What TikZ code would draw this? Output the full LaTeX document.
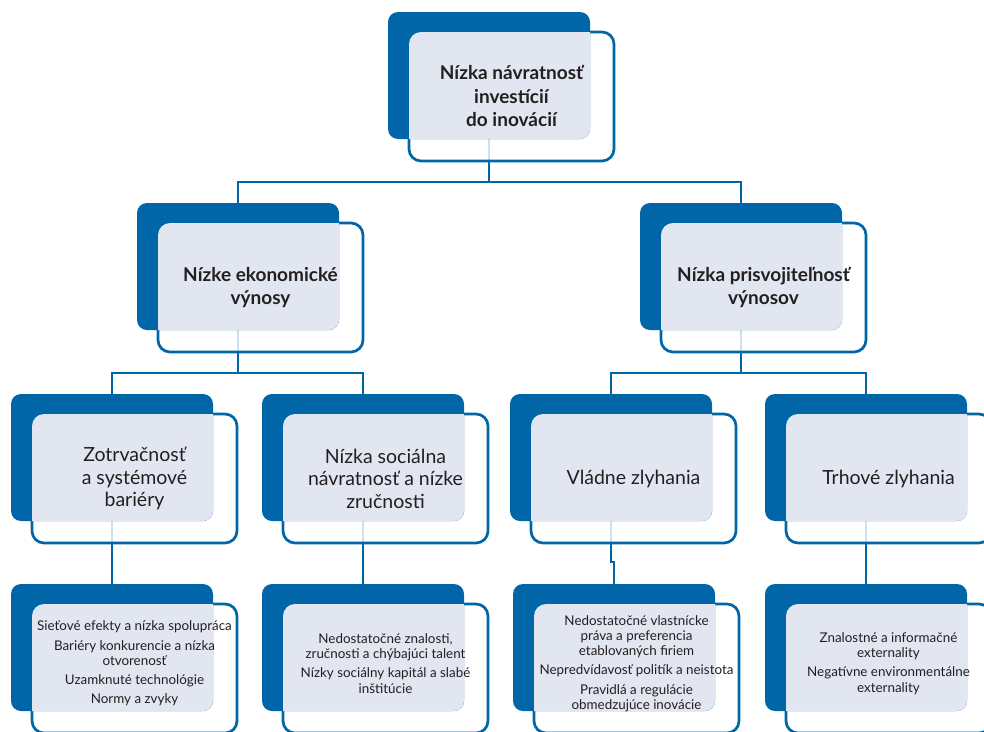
\documentclass[tikz,border=0pt]{standalone}
\usepackage{fontspec}
\setmainfont{Lato}
\definecolor{dblue}{HTML}{0066A8}
\definecolor{lfill}{HTML}{E1E6F1}
\definecolor{txt}{HTML}{231F20}
\pgfdeclarelayer{bg}
\pgfsetlayers{bg,main}
\tikzset{
 darkbox/.style={fill=dblue, draw=none, rounded corners=10pt, minimum width=202pt, minimum height=127pt, inner sep=0pt, outer sep=0pt, anchor=north west},
 outbox/.style={draw=dblue, line width=2.7pt, fill=white, fill opacity=0.8, rounded corners=12pt, minimum width=205pt, minimum height=129pt, inner sep=0pt, outer sep=0pt, anchor=north west},
 conn/.style={draw=dblue, line width=2.8pt},
 h1/.style={font=\fontsize{19}{23.5}\selectfont\bfseries, text=txt, align=center},
 h3/.style={font=\fontsize{19.5}{22.5}\selectfont, text=txt, align=center},
 h4/.style={font=\fontsize{13.4}{15.2}\selectfont, text=txt, align=center, yshift=5pt},
}
% name, x, y, text, style
\newcommand\tribox[5]{%
 \node[outbox] (#1o) at (#2+21,#3+20) {};
 \node[darkbox] (#1) at (#2,#3) {};
 \begin{scope}
  \clip[rounded corners=10pt] (#1.north west) rectangle (#1.south east);
  \fill[lfill, rounded corners=12pt] (#1o.north west) rectangle (#1o.south east);
 \end{scope}
 \node[#5] (#1t) at (#1o.center) {#4};
}
\begin{document}
\begin{tikzpicture}[x=1pt,y=-1pt]
\useasboundingbox (0,0) rectangle (984,731);
\clip (0,0) rectangle (984,731);

\tribox{top}{388}{12}{Nízka návratnosť\\investícií\\do inovácií}{h1}

\tribox{ek}{137}{203}{Nízke ekonomické\\výnosy}{h1}
\tribox{pr}{640}{203}{Nízka prisvojiteľnosť\\výnosov}{h1}

\tribox{zo}{11}{394}{Zotrvačnosť\\a systémové\\bariéry}{h3}
\tribox{so}{262}{394}{Nízka sociálna\\návratnosť a nízke\\zručnosti}{h3}
\tribox{vl}{510}{394}{Vládne zlyhania}{h3}
\tribox{tr}{765}{394}{Trhové zlyhania}{h3}

\tribox{zoa}{11}{584}{Sieťové efekty a nízka spolupráca\\[4pt]Bariéry konkurencie a nízka\\otvorenosť\\[4pt]Uzamknuté technológie\\[4pt]Normy a zvyky}{h4}
\tribox{soa}{262}{584}{Nedostatočné znalosti,\\zručnosti a chýbajúci talent\\[4pt]Nízky sociálny kapitál a slabé\\inštitúcie}{h4}
\tribox{vla}{513}{584}{Nedostatočné vlastnícke\\práva a preferencia\\etablovaných firiem\\[4pt]Nepredvídavosť politík a neistota\\[4pt]Pravidlá a regulácie\\obmedzujúce inovácie}{h4}
\tribox{tra}{765}{584}{Znalostné a informačné\\externality\\[4pt]Negatívne environmentálne\\externality}{h4}

\coordinate (j1) at (489,182);
\coordinate (j2) at (238,373);
\coordinate (j3) at (741,373);
\coordinate (jog) at (612,562);

\begin{pgfonlayer}{bg}
 \draw[conn] (top.south) -- (j1) -| (ek.north);
 \draw[conn] (j1) -| (pr.north);
 \draw[conn] (ek.south) -- (j2) -| (zo.north);
 \draw[conn] (j2) -| (so.north);
 \draw[conn] (pr.south) -- (j3) -| (vl.north);
 \draw[conn] (j3) -| (tr.north);
 \draw[conn] (zo.south) -- (zoa.north);
 \draw[conn] (so.south) -- (soa.north);
 \draw[conn] (vl.south) |- (jog) -| (vla.north);
 \draw[conn] (tr.south) -- (tra.north);
\end{pgfonlayer}
\end{tikzpicture}
\end{document}
